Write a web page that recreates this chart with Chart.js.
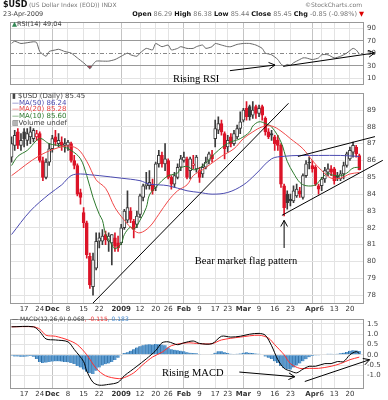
<!DOCTYPE html>
<html>
<head>
<meta charset="utf-8">
<style>
  html, body { margin: 0; padding: 0; background: #fff; }
  #wrap { position: relative; width: 388px; height: 400px; overflow: hidden; font-family: "DejaVu Sans", sans-serif; }
  canvas { position: absolute; left: 0; }
  .t { position: absolute; white-space: nowrap; line-height: 1; }
</style>
</head>
<body>
<div id="wrap">
  <canvas id="rsi" width="388" height="92" style="top:0"></canvas>
  <canvas id="price" width="388" height="228" style="top:86px"></canvas>
  <canvas id="macd" width="388" height="88" style="top:312px"></canvas>

  <div class="t" style="left:3px;top:1px;font-size:8px;font-weight:bold;color:#111">$USD</div>
  <div class="t" style="left:29px;top:2px;font-size:6px;color:#777">(US Dollar Index (EOD)) INDX</div>
  <div class="t" style="right:26px;top:2px;font-size:6px;color:#777">&copy;StockCharts.com</div>
  <div class="t" style="left:3px;top:11px;font-size:6.5px;color:#444">23-Apr-2009</div>
  <div class="t" style="right:24px;top:11px;font-size:6.5px;color:#777"><b style="color:#111">Open</b> 86.29 <b style="color:#111">High</b> 86.38 <b style="color:#111">Low</b> 85.44 <b style="color:#111">Close</b> 85.45 <b style="color:#111">Chg</b> -0.85 (-0.98%) <span style="color:#d00">&#9660;</span></div>

  <div class="t" style="left:12px;top:21px;font-size:6.5px;color:#444"><span style="color:#385">&#9650;</span>RSI(14) 49.04</div>
  <div class="t" style="left:12px;top:93px;font-size:7px;line-height:6.7px;color:#444">
    <div>&#9646; $USD (Daily) 85.45</div>
    <div style="color:#4a4ab0">&#8212;MA(50) 86.24</div>
    <div style="color:#e84040">&#8212;MA(20) 85.28</div>
    <div style="color:#2d7a2d">&#8212;MA(10) 85.60</div>
    <div>&#9637;Volume undef</div>
  </div>
  <div class="t" style="left:12px;top:316px;font-size:6px;color:#444">&#8212; MACD(12,26,9) 0.068<span style="color:#e33">, -0.115</span><span style="color:#48c">, 0.183</span></div>
</div>

<script src="https://cdn.jsdelivr.net/npm/chart.js"></script>
<script>
// trading days shown on the chart
const nov08 = [11, 12, 13, 14, 17, 18, 19, 20, 21, 24, 25, 26, 28];
const dec08 = [1, 2, 3, 4, 5, 8, 9, 10, 11, 12, 15, 16, 17, 18, 19, 22, 23, 24, 26, 29, 30, 31];
const jan09 = [2, 5, 6, 7, 8, 9, 12, 13, 14, 15, 16, 20, 21, 22, 23, 26, 27, 28, 29, 30];
const feb09 = [2, 3, 4, 5, 6, 9, 10, 11, 12, 13, 17, 18, 19, 20, 23, 24, 25, 26, 27];
const mar09 = [2, 3, 4, 5, 6, 9, 10, 11, 12, 13, 16, 17, 18, 19, 20, 23, 24, 25, 26, 27, 30, 31];
const apr09 = [1, 2, 3, 6, 7, 8, 9, 13, 14, 15, 16, 17, 20, 21, 22, 23];

const tickDates = ['2008-11-17', '2008-11-24', '2008-12-01', '2008-12-08', '2008-12-15', '2008-12-22',
  '2009-01-02', '2009-01-12', '2009-01-20', '2009-01-26', '2009-02-02', '2009-02-09', '2009-02-17',
  '2009-02-23', '2009-03-02', '2009-03-09', '2009-03-16', '2009-03-23', '2009-04-01', '2009-04-06',
  '2009-04-13', '2009-04-20'];
const tickText = ['17', '24', 'Dec', '8', '15', '22', '2009', '12', '20', '26', 'Feb', '9', '17',
  '23', 'Mar', '9', '16', '23', 'Apr', '6', '13', '20'];
const majorText = ['Dec', '2009', 'Feb', 'Mar', 'Apr'];

// daily OHLC
const opens = [86.2, 86.9, 87.7, 86.9, 87.7, 87.2, 87.4, 87.3, 87.4, 87.6,
  86.0, 85.0, 85.9, 86.7, 87.4, 87.0, 87.1, 86.9, 86.9, 87.0,
  86.0, 85.7, 84.1, 82.9, 82.3, 80.3, 78.5, 79.6, 81.2, 81.2,
  81.6, 81.2, 81.1, 81.4, 81.1, 81.1, 82.0, 82.45, 83.0, 82.4,
  82.2, 82.8, 83.8, 84.5, 84.5, 84.6, 84.4, 85.8, 86.3, 85.8,
  86.0, 85.0, 84.6, 85.0, 85.6, 86.0, 86.1, 85.4, 85.7, 85.5,
  85.4, 85.2, 85.6, 86.0, 86.3, 87.3, 87.8, 88.2, 87.6, 86.8,
  87.4, 87.0, 87.4, 87.9, 88.4, 89.1, 89.2, 88.7, 89.2, 88.8,
  89.2, 88.5, 87.7, 87.6, 87.4, 87.2, 86.9, 84.5, 84.0, 83.7,
  83.6, 83.9, 84.2, 83.8, 85.1, 85.9, 85.7, 85.6, 84.5, 84.5,
  84.9, 85.3, 85.5, 85.5, 85.1, 84.9, 85.2, 85.7, 86.1, 86.5,
  86.8, 86.29];
const highs = [87.4, 87.8, 87.9, 87.6, 87.9, 87.9, 88.0, 87.9, 87.8, 87.7,
  86.2, 86.1, 87.0, 87.5, 87.8, 87.6, 87.4, 87.3, 87.2, 87.1,
  86.3, 85.8, 84.3, 83.2, 82.4, 80.5, 80.5, 81.7, 81.7, 81.9,
  81.8, 81.7, 81.6, 81.7, 81.5, 82.2, 83.1, 84.2, 83.2, 82.5,
  83.0, 84.0, 84.6, 85.3, 85.4, 84.9, 85.9, 86.6, 86.5, 87.0,
  86.1, 85.1, 85.3, 85.8, 86.3, 86.5, 86.2, 86.2, 86.3, 86.3,
  85.6, 85.8, 86.2, 86.5, 86.6, 88.4, 88.6, 88.4, 87.7, 87.5,
  87.6, 87.8, 88.1, 88.9, 89.1, 89.5, 89.3, 89.5, 89.3, 89.3,
  89.3, 88.6, 87.9, 87.8, 87.5, 87.5, 87.0, 84.6, 84.2, 84.0,
  84.5, 84.6, 84.4, 85.2, 86.0, 86.2, 86.0, 85.7, 84.6, 85.0,
  85.6, 85.8, 85.7, 85.6, 85.3, 85.4, 85.9, 86.5, 86.8, 87.1,
  86.9, 86.38];
const lows = [85.9, 86.6, 86.7, 86.6, 86.8, 86.9, 87.0, 87.1, 87.2, 85.9,
  84.8, 84.9, 85.7, 86.5, 86.9, 86.8, 86.6, 86.5, 86.6, 85.9,
  85.5, 83.9, 83.4, 82.0, 80.2, 78.4, 78.0, 79.5, 80.8, 81.0,
  81.0, 80.6, 79.8, 80.6, 80.6, 81.0, 81.9, 82.3, 82.3, 81.4,
  82.0, 82.6, 83.6, 84.3, 84.3, 84.0, 84.2, 85.6, 85.6, 85.4,
  84.9, 84.3, 84.4, 84.9, 85.4, 85.9, 84.9, 84.9, 85.5, 85.3,
  84.7, 85.0, 85.5, 85.8, 85.9, 86.8, 87.6, 87.5, 86.1, 86.5,
  86.8, 86.9, 87.3, 87.6, 88.3, 88.4, 88.4, 88.5, 88.5, 88.6,
  88.4, 87.5, 87.3, 87.2, 86.6, 86.6, 84.4, 82.7, 83.1, 83.3,
  83.5, 83.8, 83.8, 83.7, 85.0, 85.5, 85.3, 84.5, 84.0, 84.2,
  84.7, 85.1, 85.1, 84.6, 84.8, 84.8, 84.9, 85.6, 86.0, 86.2,
  86.2, 85.44];
const closes = [87.0, 87.5, 86.9, 87.2, 87.3, 87.6, 87.7, 87.8, 87.6, 86.0,
  85.0, 85.9, 86.7, 87.3, 87.1, 87.2, 86.9, 87.0, 87.1, 86.0,
  85.7, 84.0, 83.8, 82.3, 80.4, 78.6, 80.1, 81.2, 81.4, 81.5,
  81.3, 81.5, 81.6, 80.9, 80.8, 82.0, 83.0, 83.2, 82.5, 81.9,
  82.7, 83.9, 84.5, 84.6, 84.7, 84.2, 85.8, 86.3, 85.8, 86.1,
  85.0, 84.6, 85.1, 85.6, 86.1, 86.2, 85.0, 86.1, 85.8, 86.2,
  85.0, 85.6, 85.9, 86.4, 86.1, 87.9, 88.2, 87.7, 86.7, 87.2,
  87.0, 87.6, 87.9, 88.3, 89.0, 88.6, 88.6, 89.0, 88.8, 89.1,
  88.7, 87.7, 87.4, 87.5, 87.0, 86.9, 84.6, 83.2, 83.5, 83.6,
  84.2, 84.3, 84.0, 85.1, 85.8, 85.85, 85.5, 84.6, 84.3, 84.9,
  85.4, 85.5, 85.3, 84.8, 85.0, 85.2, 85.7, 86.4, 86.6, 86.9,
  86.4, 85.45];

// moving averages: [day index, value]
const ma50Pts = [[0, 81.6], [6, 83.0], [12, 84.0], [16, 84.55], [19, 85.1], [22, 85.2], [25, 85.15],
  [28, 85.1], [35, 84.95], [41, 84.8], [44, 84.6], [50, 84.5], [56, 84.2], [60, 84.1], [64, 84.0],
  [69, 84.1], [74, 84.55], [78, 85.2], [83, 86.1], [87, 86.25], [92, 86.3], [98, 86.3], [105, 86.3],
  [111, 86.24]];
const ma20Pts = [[0, 85.1], [9, 86.3], [17, 86.85], [21, 86.7], [24, 85.95], [27, 84.85], [30, 84.35],
  [33, 83.2], [36, 82.45], [39, 81.85], [41, 81.7], [44, 82.05], [47, 82.8], [50, 83.6], [53, 84.2],
  [56, 84.55], [58, 85.1], [61, 85.45], [64, 85.85], [67, 86.25], [71, 86.7], [74, 87.3], [77, 87.7],
  [80, 88.0], [83, 88.05], [86, 87.75], [89, 87.3], [93, 86.7], [96, 86.0], [99, 85.4], [102, 84.95],
  [105, 84.95], [108, 85.2], [111, 85.28]];
const ma10Pts = [[0, 85.7], [2, 86.25], [5, 86.6], [9, 87.3], [12, 87.0], [16, 86.85], [19, 86.6],
  [22, 86.1], [24, 85.1], [26, 83.8], [28, 82.8], [29, 82.45], [30, 81.65], [32, 81.0], [33, 80.75],
  [35, 81.05], [36, 81.6], [38, 82.05], [39, 81.9], [41, 82.45], [43, 83.2], [44, 83.95], [46, 84.4],
  [48, 84.8], [50, 85.1], [51, 85.15], [53, 85.25], [54, 85.55], [56, 85.65], [58, 85.45], [60, 85.55],
  [62, 85.85], [64, 86.25], [66, 86.6], [68, 86.9], [70, 87.1], [73, 87.3], [76, 87.7], [77, 88.05],
  [79, 88.3], [81, 88.2], [83, 88.0], [86, 87.1], [88, 85.95], [90, 85.25], [92, 84.7], [94, 84.5],
  [97, 84.55], [99, 84.95], [101, 85.25], [102, 85.15], [105, 85.1], [107, 85.25], [109, 85.55],
  [111, 85.6]];

const rsiPts = [[0, 66], [1, 69.4], [3, 65.8], [7, 68.5], [8, 67.4], [9, 53], [11, 45.4], [12, 53],
  [14, 55.5], [15, 56.6], [17, 53], [19, 50.5], [21, 42.8], [23, 35], [24, 30.5], [25, 25.5],
  [26, 32.5], [27, 37.7], [29, 37.7], [31, 37.7], [33, 40.2], [35, 45.4], [37, 50.5], [38, 47.8],
  [40, 45.4], [41, 50.5], [43, 58], [45, 55.5], [46, 65.8], [48, 60.7], [50, 63.3], [51, 55.5],
  [53, 58], [54, 60.7], [56, 58], [58, 58], [59, 60.7], [61, 63.3], [62, 58], [64, 60.7], [65, 65.8],
  [67, 63.3], [69, 60.7], [70, 60.7], [72, 64.3], [74, 65.8], [76, 65.8], [78, 63.3], [80, 58],
  [81, 50.5], [83, 47.8], [85, 40.2], [86, 33], [87, 30], [88, 32.5], [89, 31], [90, 35], [91, 37.7],
  [92, 40.2], [93, 42.8], [94, 42.8], [96, 40.2], [98, 42.8], [99, 47.8], [101, 47.8], [103, 42.8],
  [105, 45.4], [107, 50.5], [109, 58], [110, 55.5], [111, 49.04]];

const macdPts = [[0, 1.36], [7, 1.36], [9, 1.13], [11, 0.77], [14, 0.72], [18, 0.63], [20, 0.26],
  [23, -0.33], [24, -0.79], [26, -1.34], [28, -1.48], [31, -1.44], [34, -1.34], [36, -1.02],
  [38, -0.79], [40, -0.56], [43, -0.2], [46, 0.2], [48, 0.58], [50, 0.63], [53, 0.49], [55, 0.58],
  [58, 0.67], [60, 0.55], [64, 0.54], [67, 0.9], [70, 0.86], [73, 0.9], [76, 1.0], [79, 1.04],
  [81, 0.95], [83, 0.44], [85, -0.24], [87, -0.66], [89, -0.79], [91, -0.88], [93, -0.7], [95, -0.56],
  [97, -0.56], [100, -0.43], [102, -0.43], [104, -0.33], [106, -0.33], [108, 0.0], [110, 0.15],
  [111, 0.068]];
const signalPts = [[0, 1.36], [7, 1.36], [9, 1.25], [11, 0.95], [14, 0.9], [18, 0.72], [21, 0.49],
  [24, 0.0], [27, -0.66], [30, -1.02], [34, -1.16], [36, -1.11], [39, -0.88], [42, -0.47], [45, -0.11],
  [48, 0.12], [51, 0.44], [56, 0.58], [60, 0.54], [64, 0.54], [67, 0.72], [73, 0.86], [79, 0.95],
  [82, 0.81], [84, 0.49], [87, 0.0], [89, -0.43], [92, -0.66], [95, -0.66], [98, -0.66], [102, -0.56],
  [105, -0.43], [108, -0.24], [111, -0.115]];
const hist = [-0.05, -0.08, -0.08, -0.1, -0.1, -0.08, -0.06, -0.1, -0.2, -0.35,
  -0.4, -0.38, -0.35, -0.33, -0.32, -0.32, -0.33, -0.35, -0.36, -0.4,
  -0.45, -0.55, -0.62, -0.72, -0.82, -0.9, -0.93, -0.78, -0.62, -0.52,
  -0.46, -0.42, -0.35, -0.26, -0.15, -0.03, 0.08, 0.12, 0.2, 0.27,
  0.35, 0.42, 0.46, 0.5, 0.51, 0.5, 0.52, 0.51, 0.5, 0.46,
  0.35, 0.27, 0.24, 0.22, 0.2, 0.17, 0.12, 0.1, 0.09, 0.07,
  0.04, 0.02, 0.0, 0.02, 0.04, 0.1, 0.17, 0.17, 0.12, 0.08,
  0.05, 0.04, 0.05, 0.06, 0.1, 0.12, 0.1, 0.08, 0.06, 0.05,
  0.02, -0.08, -0.15, -0.2, -0.32, -0.4, -0.55, -0.65, -0.7, -0.72,
  -0.62, -0.52, -0.42, -0.32, -0.22, -0.12, -0.06, -0.04, -0.03, 0.0,
  0.03, 0.05, 0.05, 0.04, 0.05, 0.07, 0.1, 0.14, 0.19, 0.22,
  0.21, 0.183];

// hand drawn notes, in [day index, value]
const priceNotes = [
  { pts: [[26, 77.53], [88.4, 89.4]] },
  { pts: [[91.4, 86.24], [116, 87.42]] },
  { pts: [[86.3, 82.74], [118.5, 86.01]] },
  { pts: [[87, 80.8], [87, 82.44]], head: true }
];
const priceLabels = [['Bear market flag pattern', 58.5, 80.0]];
const rsiNotes = [
  { pts: [[69.7, 22.5], [84.1, 31.5]], head: true },
  { pts: [[86.7, 29.4], [115.9, 50.7]], head: true }
];
const rsiLabels = [['Rising RSI', 51.5, 9]];
const macdNotes = [
  { pts: [[72.7, -0.84], [90.4, -1.07]], head: true },
  { pts: [[93.6, -1.30], [114.3, -0.24]], head: true }
];
const macdLabels = [['Rising MACD', 48, -0.88]];

const RED = '#dc1428', DARK = '#3a3a3a';

const pad = d => (d < 10 ? '0' : '') + d;
const dates = [].concat(
  nov08.map(d => '2008-11-' + pad(d)), dec08.map(d => '2008-12-' + pad(d)),
  jan09.map(d => '2009-01-' + pad(d)), feb09.map(d => '2009-02-' + pad(d)),
  mar09.map(d => '2009-03-' + pad(d)), apr09.map(d => '2009-04-' + pad(d)));
const labels = dates.concat(['']);
const tickIdx = tickDates.map(d => dates.indexOf(d));

function sparse(pts) {
  const a = labels.map(() => null);
  pts.forEach(p => { a[p[0]] = p[1]; });
  return a;
}

function xAxis(show) {
  return {
    type: 'category', offset: true,
    grid: { offset: false, drawTicks: false,
      color: c => majorText.includes(tickText[c.index]) ? '#c4c4c4' : '#e3e3e3' },
    border: { display: false },
    ticks: {
      display: show, autoSkip: false, maxRotation: 0, minRotation: 0, padding: 1, color: '#333',
      font: c => ({ family: 'DejaVu Sans', size: 7, weight: majorText.includes(tickText[c.index]) ? 'bold' : 'normal' }),
      callback: (v, k) => tickText[k]
    },
    afterBuildTicks: s => { s.ticks = tickIdx.map(v => ({ value: v })); },
    afterFit: s => { s.height = show ? 10 : 0; }
  };
}

function yAxis(min, max, ticks, fmt, gridColor) {
  return {
    position: 'right', min: min, max: max,
    grid: { drawTicks: false, color: gridColor || '#e3e3e3' },
    border: { display: false },
    ticks: { padding: 3, color: '#444', font: { family: 'DejaVu Sans', size: 7 }, callback: v => fmt(v) },
    afterBuildTicks: s => { s.ticks = ticks.map(v => ({ value: v })); },
    afterFit: s => { s.width = 24; }
  };
}

const frame = {
  id: 'frame',
  afterDatasetsDraw(chart) {
    const { ctx, chartArea: a } = chart;
    ctx.save();
    ctx.strokeStyle = '#999';
    ctx.lineWidth = 1;
    ctx.strokeRect(Math.round(a.left) + 0.5, Math.round(a.top) + 0.5, Math.round(a.width) - 1, Math.round(a.height) - 1);
    ctx.restore();
  }
};

function notes(lines, texts) {
  return {
    id: 'notes',
    afterDraw(chart) {
      const { ctx, scales: { x, y } } = chart;
      ctx.save();
      ctx.strokeStyle = '#000';
      ctx.lineWidth = 1;
      lines.forEach(l => {
        const p = l.pts.map(q => [x.getPixelForValue(q[0]), y.getPixelForValue(q[1])]);
        ctx.beginPath();
        p.forEach((q, k) => k ? ctx.lineTo(q[0], q[1]) : ctx.moveTo(q[0], q[1]));
        if (l.head) {
          const a = p[p.length - 1], b = p[p.length - 2];
          const ang = Math.atan2(a[1] - b[1], a[0] - b[0]);
          [0.5, -0.5].forEach(da => {
            ctx.moveTo(a[0], a[1]);
            ctx.lineTo(a[0] - 7 * Math.cos(ang + da), a[1] - 7 * Math.sin(ang + da));
          });
        }
        ctx.stroke();
      });
      ctx.fillStyle = '#000';
      ctx.font = '10.5px "Liberation Serif", serif';
      ctx.textBaseline = 'middle';
      texts.forEach(t => ctx.fillText(t[0], x.getPixelForValue(t[1]), y.getPixelForValue(t[2])));
      ctx.restore();
    }
  };
}

const rsiRefs = {
  id: 'rsiRefs',
  beforeDatasetsDraw(chart) {
    const { ctx, chartArea: a, scales: { y } } = chart;
    const py = Math.round(y.getPixelForValue(50)) + 0.5;
    ctx.save();
    ctx.strokeStyle = '#888';
    ctx.setLineDash([4, 2, 1, 2]);
    ctx.beginPath();
    ctx.moveTo(a.left, py);
    ctx.lineTo(a.right, py);
    ctx.stroke();
    ctx.restore();
  }
};

const base = {
  responsive: false, animation: false, devicePixelRatio: 1,
  plugins: { legend: { display: false }, tooltip: { enabled: false } }
};

// RSI panel
new Chart(document.getElementById('rsi'), {
  type: 'line',
  data: {
    labels: labels,
    datasets: [{
      data: sparse(rsiPts), borderColor: '#666', borderWidth: 1, pointRadius: 0, spanGaps: true, tension: 0.2,
      fill: { target: { value: 30 }, above: 'rgba(0,0,0,0)', below: '#a04858' }
    }]
  },
  options: Object.assign({}, base, {
    layout: { padding: { left: 10, right: 0, top: 22, bottom: 3 } },
    scales: {
      x: xAxis(false),
      y: yAxis(0, 100, [10, 30, 50, 70, 90], v => String(v),
        c => (c.tick && (c.tick.value === 70 || c.tick.value === 30)) ? '#999' : (c.tick && c.tick.value === 50 ? 'rgba(0,0,0,0)' : '#e3e3e3'))
    }
  }),
  plugins: [rsiRefs, frame, notes(rsiNotes, rsiLabels)]
});

// price panel
const candleCol = closes.map((c, i) => c < (i ? closes[i - 1] : opens[i]) ? RED : DARK);
const bodyFill = closes.map((c, i) => c < opens[i] ? candleCol[i] : '#fff');
new Chart(document.getElementById('price'), {
  type: 'bar',
  data: {
    labels: labels,
    datasets: [
      { type: 'line', data: sparse(ma50Pts), borderColor: '#4a4ab0', borderWidth: 1, pointRadius: 0, spanGaps: true, tension: 0.35 },
      { type: 'line', data: sparse(ma20Pts), borderColor: '#f04848', borderWidth: 1, pointRadius: 0, spanGaps: true, tension: 0.35 },
      { type: 'line', data: sparse(ma10Pts), borderColor: '#2d7a2d', borderWidth: 1, pointRadius: 0, spanGaps: true, tension: 0.35 },
      { data: opens.map((o, i) => [o, closes[i]]), backgroundColor: bodyFill, borderColor: candleCol,
        borderWidth: 1, borderSkipped: false, barThickness: 3, grouped: false },
      { data: lows.map((l, i) => [l, highs[i]]), backgroundColor: candleCol, borderWidth: 0,
        barThickness: 1, grouped: false }
    ]
  },
  options: Object.assign({}, base, {
    layout: { padding: { left: 10, right: 0, top: 4, bottom: 0 } },
    scales: {
      x: xAxis(true),
      y: yAxis(77.47, 90, [78, 79, 80, 81, 82, 83, 84, 85, 86, 87, 88, 89], v => String(v))
    }
  }),
  plugins: [frame, notes(priceNotes, priceLabels)]
});

// MACD panel
new Chart(document.getElementById('macd'), {
  type: 'bar',
  data: {
    labels: labels,
    datasets: [
      { type: 'line', data: sparse(macdPts), borderColor: '#000', borderWidth: 1, pointRadius: 0, spanGaps: true, tension: 0.3 },
      { type: 'line', data: sparse(signalPts), borderColor: '#ff3030', borderWidth: 1, pointRadius: 0, spanGaps: true, tension: 0.3 },
      { data: hist, backgroundColor: '#5a9ad0', borderColor: '#2f6fa5', borderWidth: { left: 1, right: 0, top: 0, bottom: 0 },
        borderSkipped: false, barPercentage: 1, categoryPercentage: 1 }
    ]
  },
  options: Object.assign({}, base, {
    layout: { padding: { left: 10, right: 0, top: 3, bottom: 1 } },
    scales: {
      x: xAxis(true),
      y: yAxis(-1.665, 1.73, [-1, -0.5, 0, 0.5, 1, 1.5], v => v.toFixed(1))
    }
  }),
  plugins: [frame, notes(macdNotes, macdLabels)]
});
</script>
</body>
</html>
